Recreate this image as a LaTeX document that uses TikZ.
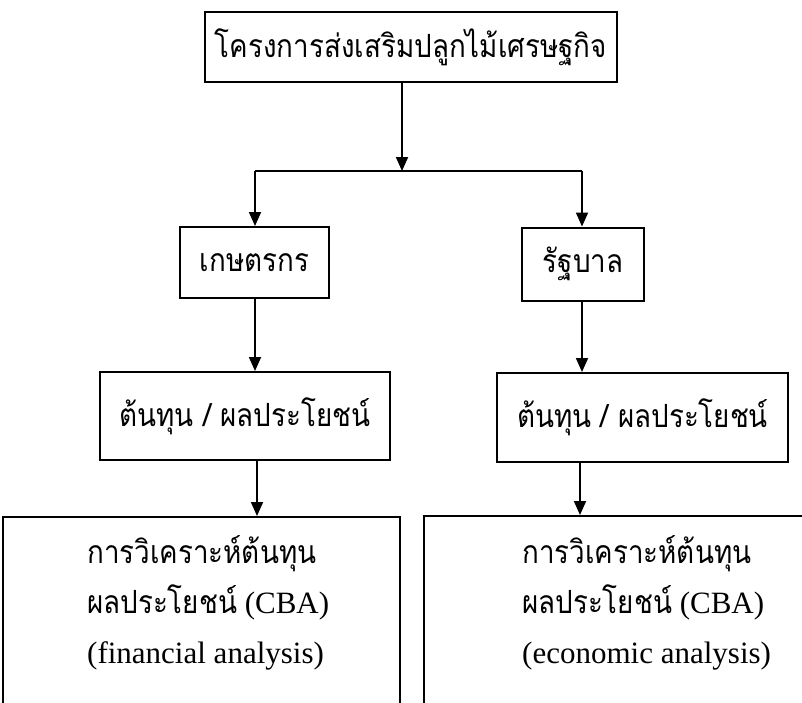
\documentclass[tikz,border=0pt]{standalone}
\usepackage{fontspec}
\setmainfont{Liberation Serif}
\newfontfamily\thai[Script=Thai,Scale=1.03,FakeStretch=0.87]{Loma}
\usetikzlibrary{arrows.meta}
\begin{document}
\begin{tikzpicture}[x=1pt,y=1pt,
  box/.style={draw, line width=2pt, inner sep=0pt},
  arr/.style={line width=1.8pt, -{Triangle[width=12pt,length=14pt]}},
  ln/.style={line width=1.8pt},
  txt/.style={font=\fontsize{31}{50}\selectfont, inner sep=0pt},
  ttl/.style={txt, align=left, anchor=west}]
\path[use as bounding box] (0,0) rectangle (802,-702);
\clip (0,0) rectangle (802,-702);
\node[box, txt, minimum width=412, minimum height=70] (top) at (411,-47) {\thai โครงการส่งเสริมปลูกไม้เศรษฐกิจ};
\coordinate (sp) at (402,-171);
\coordinate (spl) at (255,-171);
\coordinate (spr) at (582,-171);
\node[box, txt, minimum width=149, minimum height=71] (farmer) at (254.5,-262.5) {\thai เกษตรกร};
\node[box, txt, minimum width=122, minimum height=73] (gov) at (583,-264) {\thai รัฐบาล};
\node[box, txt, minimum width=290, minimum height=88] (cbl) at (245,-416) {\thai ต้นทุน / ผลประโยชน์};
\node[box, txt, minimum width=291, minimum height=89] (cbr) at (642.5,-417.5) {\thai ต้นทุน / ผลประโยชน์};
\node[box, minimum width=397, minimum height=300, anchor=north] (bl) at (201.5,-516) {};
\node[box, minimum width=382, minimum height=300, anchor=north] (br) at (615,-515) {};
\node[ttl] (blt) at (87,-603) {{\thai การวิเคราะห์ต้นทุน}\\{\thai ผลประโยชน์} (CBA)\\(financial analysis)};
\node[ttl] (brt) at (522,-603) {{\thai การวิเคราะห์ต้นทุน}\\{\thai ผลประโยชน์} (CBA)\\(economic analysis)};
\draw[arr] (top.south -| sp) -- (sp);
\draw[ln] (spl) -- (spr);
\draw[arr] (spl) -- (spl |- farmer.north);
\draw[arr] (spr) -- (spr |- gov.north);
\draw[arr] (farmer.south -| spl) -- (spl |- cbl.north);
\draw[arr] (gov.south -| spr) -- (spr |- cbr.north);
\draw[arr] ([xshift=12pt]cbl.south) -- ([xshift=12pt]cbl.south |- bl.north);
\draw[arr] ([xshift=-62.5pt]cbr.south) -- ([xshift=-62.5pt]cbr.south |- br.north);
\end{tikzpicture}
\end{document}
